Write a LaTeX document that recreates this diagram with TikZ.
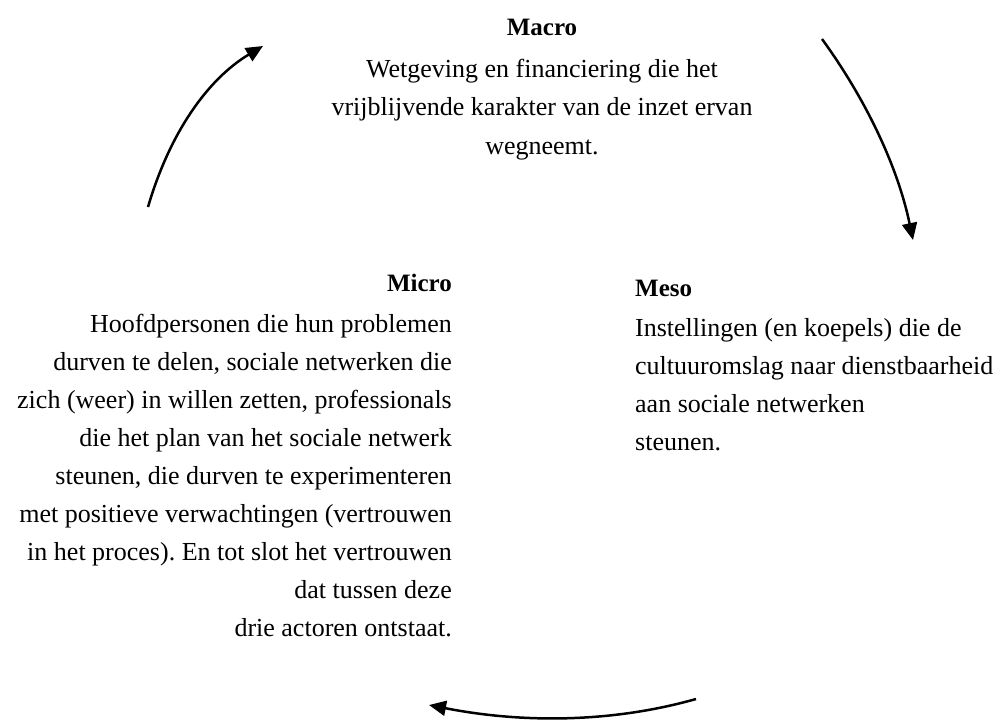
\documentclass[tikz,border=0pt]{standalone}
\usepackage{fontspec}
\setmainfont{Liberation Serif}
\usetikzlibrary{arrows.meta}
\frenchspacing
\tikzset{
  body/.style={inner sep=0pt, font=\fontsize{26}{38}\selectfont},
  ttl/.style={inner sep=0pt, font=\fontsize{25}{30}\selectfont\bfseries},
  cyc/.style={line width=2.5pt, -{Triangle[length=17pt,width=15pt]}},
}
\begin{document}
\begin{tikzpicture}[x=1pt,y=-1pt]
\useasboundingbox (0,0) rectangle (1002,722);
% Macro
\node[ttl, anchor=base] (macroT) at (542,36) {Macro};
\node[body, anchor=base] (macro1) at (542,78) {Wetgeving en financiering die het};
\node[body, anchor=base] (macro2) at (542,116) {vrijblijvende karakter van de inzet ervan};
\node[body, anchor=base] (macro3) at (542,155) {wegneemt.};
% Micro
\node[ttl, anchor=base east] (microT) at (452,292) {Micro};
\node[body, anchor=base east] (mi1) at (452,332) {Hoofdpersonen die hun problemen};
\node[body, anchor=base east] (mi2) at (452,370) {durven te delen, sociale netwerken die};
\node[body, anchor=base east] (mi3) at (452,408) {zich (weer) in willen zetten, professionals};
\node[body, anchor=base east] (mi4) at (452,446) {die het plan van het sociale netwerk};
\node[body, anchor=base east] (mi5) at (452,484) {steunen, die durven te experimenteren};
\node[body, anchor=base east] (mi6) at (452,522) {met positieve verwachtingen (vertrouwen};
\node[body, anchor=base east] (mi7) at (452,560) {in het proces). En tot slot het vertrouwen};
\node[body, anchor=base east] (mi8) at (452,598) {dat tussen deze};
\node[body, anchor=base east] (mi9) at (452,636) {drie actoren ontstaat.};
% Meso
\node[ttl, anchor=base west] (mesoT) at (635,297) {Meso};
\node[body, anchor=base west] (me1) at (635,337) {Instellingen (en koepels) die de};
\node[body, anchor=base west] (me2) at (635,374) {cultuuromslag naar dienstbaarheid};
\node[body, anchor=base west] (me3) at (635,412) {aan sociale netwerken};
\node[body, anchor=base west] (me4) at (635,450) {steunen.};
% arrows
\coordinate (a1s) at (148,207);
\coordinate (a1e) at (263,46);
\coordinate (a2s) at (822,39);
\coordinate (a2e) at (913,240);
\coordinate (a3s) at (696,699);
\coordinate (a3e) at (429,705);
\draw[cyc] (a1s) .. controls (170,132) and (208,79) .. (a1e);
\draw[cyc] (a2s) .. controls (867,101) and (898,168) .. (a2e);
\draw[cyc] (a3s) .. controls (615,722) and (526,724) .. (a3e);
\end{tikzpicture}
\end{document}
